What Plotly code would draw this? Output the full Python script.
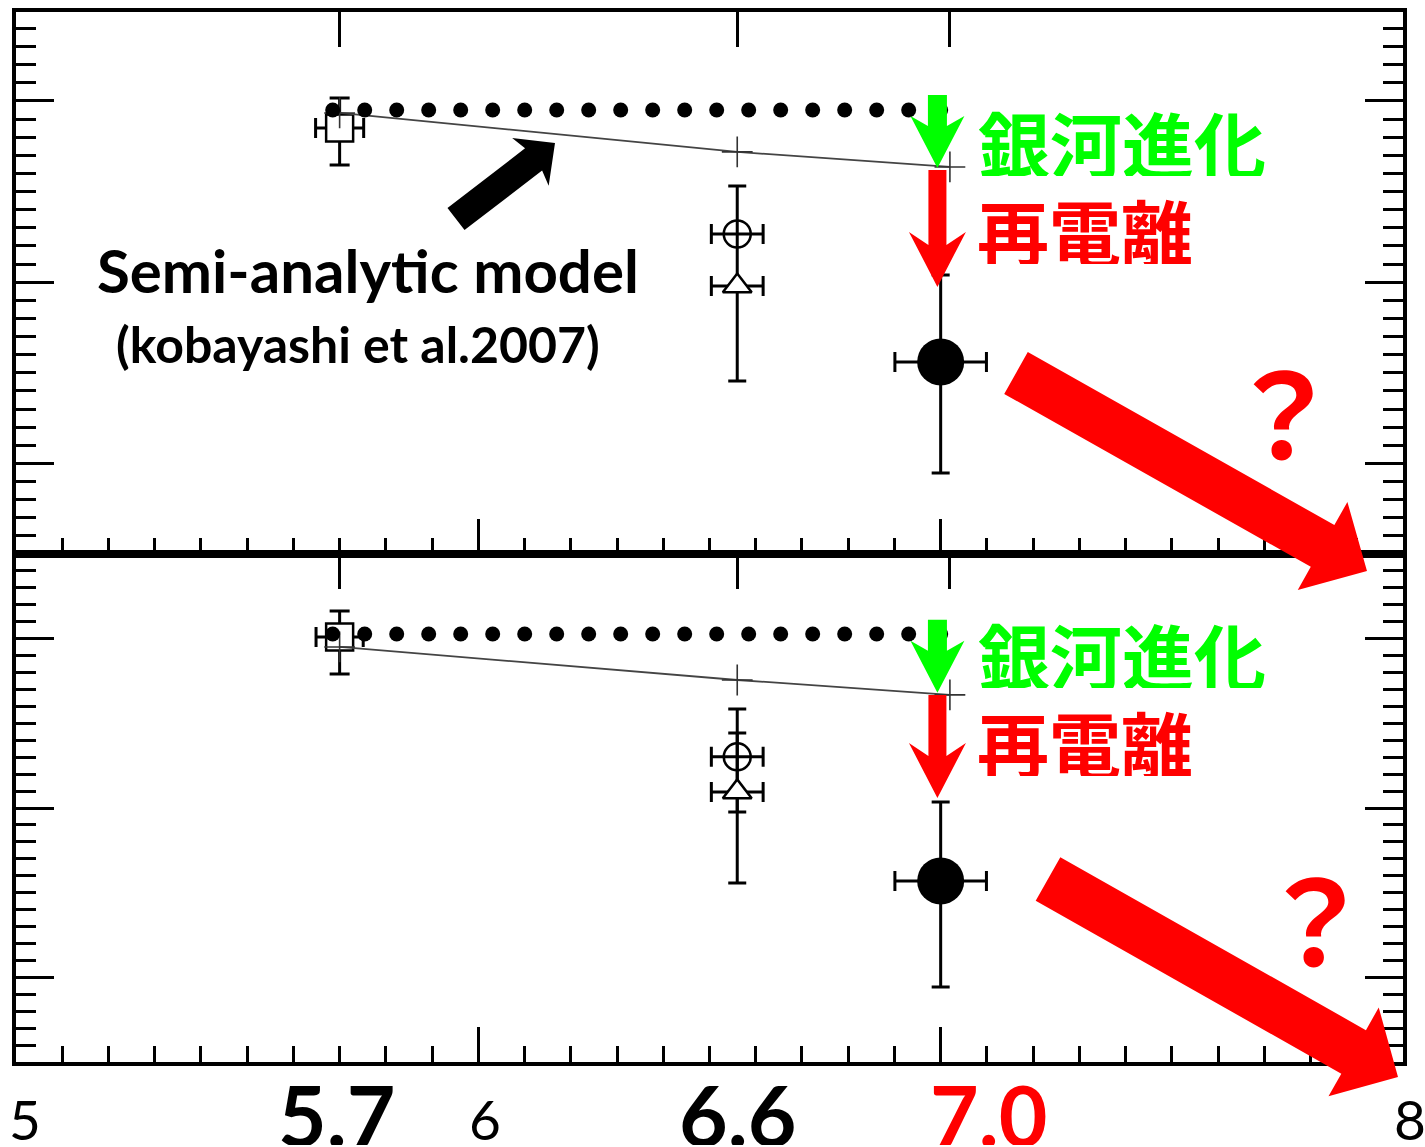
import math
import numpy as np
import plotly.graph_objects as go

# ---------------- data ----------------
panels = ["top", "bottom"]

z_range = [5.0, 8.0]
y_range_top = [0.0, 2.991]
y_range_bottom = [0.0, 3.0]

# open square  (z = 5.7)
square_z = [5.70, 5.70]
square_y = [2.351, 2.510]
square_up = [0.166, 0.154]
square_dn = [0.204, 0.218]
square_zerr = [0.052, 0.051]

# open circle  (z = 6.56)
circle_z = [6.56, 6.56]
circle_y = [1.766, 1.802]
circle_up = [0.265, 0.283]
circle_dn = [0.287, 0.325]
circle_zerr = [0.056, 0.056]

# open triangle (z = 6.56)
tri_z = [6.56, 6.56]
tri_y = [1.479, 1.595]
tri_up = [0.0, 0.348]
tri_dn = [0.524, 0.538]
tri_zerr = [0.056, 0.056]

# filled circle (z = 7.0)
obs_z = [7.0, 7.0]
obs_y = [1.060, 1.069]
obs_up = [0.480, 0.467]
obs_dn = [0.613, 0.626]
obs_zerr = [0.099, 0.099]

# semi-analytic model curve
model_z = [5.70, 6.56, 7.02]
model_y_top = [2.434, 2.219, 2.136]
model_y_bottom = [2.451, 2.256, 2.168]

# dotted reference level
dot_level = [2.450, 2.528]
dot_z_start, dot_z_end, dot_count = 5.685, 7.0, 20

# vertical annotation arrows (z and y ends)
arrow_z = 6.993
green_from = [2.533, 2.611]
green_to = [2.130, 2.180]
red_from = [2.119, 2.168]
red_to = [1.474, 1.559]

# axis ticks
major_z = [6, 7]
marker_ticks_z = [5.70, 6.56, 7.02]
y_major = [0.5, 1.5, 2.5]
small_label_z = [5, 6, 8]
small_label_text = ["5", "6", "8"]
big_label_z = [5.7, 6.6, 7.0]
big_label_text = ["5.7", "6.6", "7.0"]
big_label_color = ["black", "black", "#ff0000"]

# ---------------- geometry helpers ----------------
W, H = 1425, 1147
L, R, T, B = 16, 1403, 12, 1062
MID = 554
split = (B - MID) / (B - T)


def paper(px, py):
    return (px - L) / (R - L), (B - py) / (B - T)


def z_px(z):
    return L + (z - z_range[0]) / (z_range[1] - z_range[0]) * (R - L)


def y_px(y, panel):
    if panel == "top":
        return MID - (y - y_range_top[0]) / (y_range_top[1] - y_range_top[0]) * (MID - T)
    return B - (y - y_range_bottom[0]) / (y_range_bottom[1] - y_range_bottom[0]) * (B - MID)


def arrow_path(x0, y0, x1, y1, sw, hw, hl, notch=0.0):
    dx, dy = x1 - x0, y1 - y0
    ln = math.hypot(dx, dy)
    ux, uy = dx / ln, dy / ln
    nx, ny = -uy, ux
    hb = ln - hl
    hj = hb + notch
    pts = [
        (x0 + nx * sw / 2, y0 + ny * sw / 2),
        (x0 + ux * hj + nx * sw / 2, y0 + uy * hj + ny * sw / 2),
        (x0 + ux * hb + nx * hw / 2, y0 + uy * hb + ny * hw / 2),
        (x1, y1),
        (x0 + ux * hb - nx * hw / 2, y0 + uy * hb - ny * hw / 2),
        (x0 + ux * hj - nx * sw / 2, y0 + uy * hj - ny * sw / 2),
        (x0 - nx * sw / 2, y0 - ny * sw / 2),
    ]
    pp = [paper(px, py) for px, py in pts]
    return "M " + " L ".join(f"{a:.5f},{b:.5f}" for a, b in pp) + " Z"


# ---------------- figure ----------------
fig = go.Figure()

axes = {"top": ("x2", "y2"), "bottom": ("x", "y")}
err_style = dict(color="black", thickness=3)

for i, p in enumerate(panels):
    xa, ya = axes[p]
    # square
    fig.add_trace(go.Scatter(
        x=[square_z[i]], y=[square_y[i]], mode="markers", xaxis=xa, yaxis=ya,
        marker=dict(symbol="square", size=27, color="white", line=dict(color="black", width=2.5)),
        error_y=dict(type="data", symmetric=False, array=[square_up[i]], arrayminus=[square_dn[i]], width=10, **err_style),
        error_x=dict(type="data", array=[square_zerr[i]], width=10, **err_style),
    ))
    # open circle
    fig.add_trace(go.Scatter(
        x=[circle_z[i]], y=[circle_y[i]], mode="markers", xaxis=xa, yaxis=ya,
        marker=dict(symbol="circle-open", size=27, color="black", line=dict(color="black", width=2.5)),
        error_y=dict(type="data", symmetric=False, array=[circle_up[i]], arrayminus=[circle_dn[i]], width=9, **err_style),
        error_x=dict(type="data", array=[circle_zerr[i]], width=10, **err_style),
    ))
    # triangle
    fig.add_trace(go.Scatter(
        x=[tri_z[i]], y=[tri_y[i]], mode="markers", xaxis=xa, yaxis=ya,
        marker=dict(symbol="triangle-up", size=25, color="white", line=dict(color="black", width=2.5)),
        error_y=dict(type="data", symmetric=False, array=[tri_up[i]], arrayminus=[tri_dn[i]], width=9, **err_style),
        error_x=dict(type="data", array=[tri_zerr[i]], width=10, **err_style),
    ))
    # filled circle
    fig.add_trace(go.Scatter(
        x=[obs_z[i]], y=[obs_y[i]], mode="markers", xaxis=xa, yaxis=ya,
        marker=dict(symbol="circle", size=47, color="black"),
        error_y=dict(type="data", symmetric=False, array=[obs_up[i]], arrayminus=[obs_dn[i]], width=9, **err_style),
        error_x=dict(type="data", array=[obs_zerr[i]], width=10, **err_style),
    ))
    # model line
    my = model_y_top if p == "top" else model_y_bottom
    fig.add_trace(go.Scatter(
        x=model_z, y=my, mode="lines+markers", xaxis=xa, yaxis=ya,
        line=dict(color="#444444", width=1.8),
        marker=dict(symbol="cross-thin", size=22, line=dict(color="#333333", width=1.6)),
    ))
    # dotted level
    dz = np.linspace(dot_z_start, dot_z_end, dot_count)
    fig.add_trace(go.Scatter(
        x=dz, y=[dot_level[i]] * dot_count, mode="markers", xaxis=xa, yaxis=ya,
        marker=dict(symbol="circle", size=15, color="black"),
    ))

# dummy traces to anchor the top-side tick axes
fig.add_trace(go.Scatter(x=[5.5], y=[0.1], xaxis="x3", yaxis="y", mode="markers",
                         marker=dict(opacity=0), hoverinfo="skip"))
fig.add_trace(go.Scatter(x=[5.5], y=[0.1], xaxis="x4", yaxis="y2", mode="markers",
                         marker=dict(opacity=0), hoverinfo="skip"))

xbase = dict(range=z_range, showgrid=False, zeroline=False, showline=True, linecolor="black",
             linewidth=4, showticklabels=False)
xbottom = dict(xbase, tickmode="array", tickvals=major_z, ticks="inside", ticklen=35,
               tickwidth=3, tickcolor="black",
               minor=dict(dtick=0.1, tick0=5, ticks="inside", ticklen=16, tickwidth=3,
                          tickcolor="black", showgrid=False))
xtop = dict(xbase, tickmode="array", tickvals=marker_ticks_z, ticks="inside", ticklen=35,
            tickwidth=3, tickcolor="black", side="top")
ybase = dict(showgrid=False, zeroline=False, showline=True, linecolor="black", linewidth=4,
             showticklabels=False, mirror="ticks", tickmode="array", tickvals=y_major,
             ticks="inside", ticklen=38, tickwidth=3, tickcolor="black",
             minor=dict(dtick=0.1, tick0=0, ticks="inside", ticklen=20, tickwidth=3,
                        tickcolor="black", showgrid=False))

fig.update_layout(
    width=W, height=H,
    margin=dict(l=L, r=W - R, t=T, b=H - B, autoexpand=False),
    paper_bgcolor="white", plot_bgcolor="white",
    showlegend=False,
    xaxis=dict(xbottom, anchor="y", domain=[0, 1]),
    xaxis2=dict(xbottom, anchor="y2", domain=[0, 1]),
    xaxis3=dict(xtop, anchor="y", overlaying="x", domain=[0, 1]),
    xaxis4=dict(xtop, anchor="y2", overlaying="x2", domain=[0, 1]),
    yaxis=dict(ybase, range=y_range_bottom, domain=[0, split], anchor="x"),
    yaxis2=dict(ybase, range=y_range_top, domain=[split, 1], anchor="x2"),
)

shapes = []
GREEN, RED = "#00ff00", "#ff0000"
for i, p in enumerate(panels):
    ax = z_px(arrow_z)
    shapes.append(dict(type="path", xref="paper", yref="paper", layer="above",
                       path=arrow_path(ax, y_px(green_from[i], p), ax, y_px(green_to[i], p), 19, 54, 52, 10),
                       fillcolor=GREEN, line=dict(width=0)))
    shapes.append(dict(type="path", xref="paper", yref="paper", layer="above",
                       path=arrow_path(ax, y_px(red_from[i], p), ax, y_px(red_to[i], p), 18, 57, 55, 13),
                       fillcolor=RED, line=dict(width=0)))

# large diagonal "?" arrows and the model pointer arrow (pixel-space decorations)
shapes.append(dict(type="path", xref="paper", yref="paper", layer="above",
                   path=arrow_path(1016, 373, 1367, 571, 48, 101, 51), fillcolor=RED, line=dict(width=0)))
shapes.append(dict(type="path", xref="paper", yref="paper", layer="above",
                   path=arrow_path(1048, 879, 1398, 1077, 50, 102, 51), fillcolor=RED, line=dict(width=0)))
shapes.append(dict(type="path", xref="paper", yref="paper", layer="above",
                   path=arrow_path(456, 219, 555, 143, 28, 60, 31, 4), fillcolor="black", line=dict(width=0)))
fig.update_layout(shapes=shapes)

ann = []


def text_at(px, py, text, size, color, family, weight="normal", box_h=None):
    x, y = paper(px, py)
    a = dict(x=x, y=y, xref="paper", yref="paper", text=text, showarrow=False,
             xanchor="center", yanchor="middle", valign="middle", borderpad=0,
             font=dict(size=size, color=color, family=family, weight=weight))
    if box_h:
        a["height"] = box_h
    ann.append(a)


CJK = "Noto Sans CJK JP"
text_at(368, 270, "Semi-analytic model", 60, "black", "Lato", "bold")
text_at(358, 344, "(kobayashi et al.2007)", 50, "black", "Lato", "bold")
text_at(1122, 141, "銀河進化", 72, GREEN, CJK, "bold", 70)
text_at(1085, 229, "再電離", 72, RED, CJK, "bold", 70)
text_at(1122, 653, "銀河進化", 72, GREEN, CJK, "bold", 70)
text_at(1085, 741, "再電離", 72, RED, CJK, "bold", 70)
text_at(1283, 408, "？", 116, RED, CJK, "bold")
text_at(1315, 915, "？", 116, RED, CJK, "bold")

# tick labels under the axis
small_shift = [9, 7, 7]
for z, t, s in zip(small_label_z, small_label_text, small_shift):
    ann.append(dict(x=z, y=paper(0, 1119)[1], xref="x", yref="paper", text=t, showarrow=False,
                    xanchor="center", yanchor="middle", valign="middle", xshift=s,
                    height=44, borderpad=0,
                    font=dict(size=55, color="black", family="Lato")))
big_shift = [-3, -18, 48]
for z, t, c, s in zip(big_label_z, big_label_text, big_label_color, big_shift):
    ann.append(dict(x=z, y=paper(0, 1114)[1], xref="x", yref="paper", text=t, showarrow=False,
                    xanchor="center", yanchor="middle", valign="middle", xshift=s,
                    height=62, borderpad=0,
                    font=dict(size=84, color=c, family="Lato", weight="bold")))

fig.update_layout(annotations=ann)

fig.write_html("out.html", config={"displayModeBar": False},
               post_script="document.body.style.margin='0px';")
